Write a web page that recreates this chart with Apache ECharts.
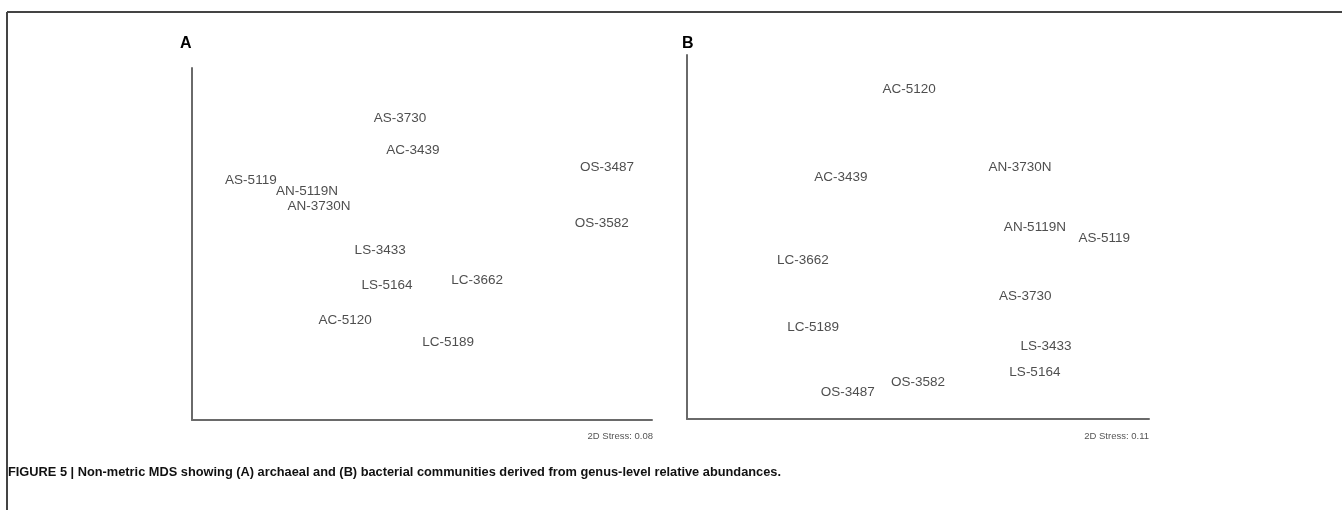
<!DOCTYPE html>
<html>
<head>
<meta charset="utf-8">
<script src="https://cdn.jsdelivr.net/npm/echarts@6/dist/echarts.min.js"></script>
<style>
html,body{margin:0;padding:0;background:#fff;}
#c{width:1342px;height:510px;}
</style>
</head>
<body>
<div id="c"></div>
<script>
// Panel A: archaeal communities (NMDS coordinates, arbitrary units)
const samplesA = ['AS-3730','AC-3439','OS-3487','AS-5119','AN-5119N','AN-3730N','OS-3582','LS-3433','LS-5164','LC-3662','AC-5120','LC-5189'];
const xA = [45.2, 48.0, 90.2, 12.8, 25.0, 27.6, 89.1, 40.9, 42.4, 62.0, 33.3, 55.7];
const yA = [85.8, 76.7, 71.9, 68.2, 65.1, 60.8, 56.0, 48.3, 38.4, 39.8, 28.4, 22.2];
// Panel B: bacterial communities
const samplesB = ['AC-5120','AN-3730N','AC-3439','AN-5119N','AS-5119','LC-3662','AS-3730','LC-5189','LS-3433','LS-5164','OS-3582','OS-3487'];
const xB = [48.1, 72.1, 33.3, 75.3, 90.3, 25.1, 73.2, 27.3, 77.7, 75.3, 50.0, 34.8];
const yB = [90.7, 69.2, 66.5, 52.7, 49.7, 43.7, 33.8, 25.3, 20.1, 12.9, 10.2, 7.4];
const panelTitles = ['A', 'B'];
const stressLabels = ['2D Stress: 0.08', '2D Stress: 0.11'];
const caption = 'FIGURE 5 | Non-metric MDS showing (A) archaeal and (B) bacterial communities derived from genus-level relative abundances.';

const toData = (names, xs, ys) => names.map((n, i) => ({name: n, value: [xs[i], ys[i]]}));

const axisCommon = {
  type: 'value', min: 0, max: 100,
  axisLine: {show: true, onZero: false, lineStyle: {color: '#6a6a6a', width: 2}},
  axisTick: {show: false}, axisLabel: {show: false}, splitLine: {show: false}
};

const labelStyle = {
  show: true, position: 'inside', formatter: '{b}',
  color: '#222', textBorderWidth: 0, fontSize: 13.5, fontFamily: 'Liberation Sans, Arial, sans-serif'
};

const chart = echarts.init(document.getElementById('c'), null, {renderer: 'canvas'});
chart.setOption({
  backgroundColor: '#fff',
  animation: false,
  grid: [
    {left: 192, top: 68, width: 460, height: 352},
    {left: 687, top: 55, width: 462, height: 364}
  ],
  xAxis: [
    Object.assign({gridIndex: 0}, axisCommon),
    Object.assign({gridIndex: 1}, axisCommon)
  ],
  yAxis: [
    Object.assign({gridIndex: 0}, axisCommon),
    Object.assign({gridIndex: 1}, axisCommon)
  ],
  series: [
    {type: 'scatter', xAxisIndex: 0, yAxisIndex: 0, symbolSize: 1,
     itemStyle: {color: 'rgba(0,0,0,0)'}, label: labelStyle,
     data: toData(samplesA, xA, yA)},
    {type: 'scatter', xAxisIndex: 1, yAxisIndex: 1, symbolSize: 1,
     itemStyle: {color: 'rgba(0,0,0,0)'}, label: labelStyle,
     data: toData(samplesB, xB, yB)}
  ],
  graphic: [
    {type: 'line', shape: {x1: 7, y1: 12, x2: 1342, y2: 12}, style: {stroke: '#444', lineWidth: 2}},
    {type: 'line', shape: {x1: 7, y1: 12, x2: 7, y2: 510}, style: {stroke: '#444', lineWidth: 2}},
    {type: 'text', left: 180, top: 36, style: {text: panelTitles[0], font: 'bold 16px Liberation Sans, Arial, sans-serif', fill: '#000'}},
    {type: 'text', left: 682, top: 36, style: {text: panelTitles[1], font: 'bold 16px Liberation Sans, Arial, sans-serif', fill: '#000'}},
    {type: 'text', x: 653, y: 436, style: {text: stressLabels[0], align: 'right', verticalAlign: 'middle', font: '9.5px Liberation Sans, Arial, sans-serif', fill: '#555'}},
    {type: 'text', x: 1149, y: 436, style: {text: stressLabels[1], align: 'right', verticalAlign: 'middle', font: '9.5px Liberation Sans, Arial, sans-serif', fill: '#555'}},
    {type: 'text', x: 8, y: 472, style: {text: caption, align: 'left', verticalAlign: 'middle', font: 'bold 12.8px Liberation Sans Narrow, Arial Narrow, Liberation Sans, sans-serif', fill: '#111'}}
  ]
});
</script>
</body>
</html>
